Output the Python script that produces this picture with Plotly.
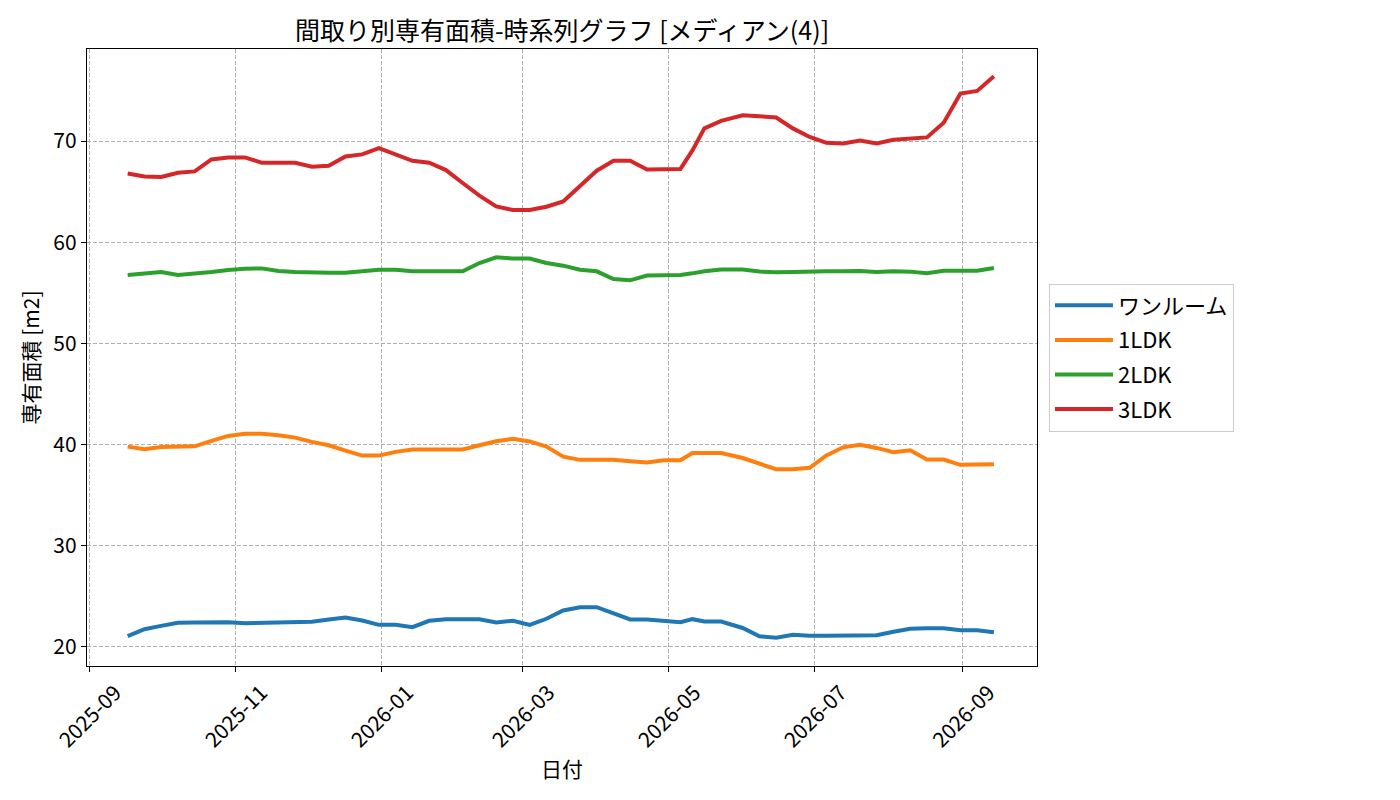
"""
Floor-plan area time series (median) rendered with Plotly.
"""
import plotly.graph_objects as go


# --- Data ---
dates = [
    "2025-09-17", "2025-09-24", "2025-10-01", "2025-10-08", "2025-10-15",
    "2025-10-22", "2025-10-29", "2025-11-05", "2025-11-12", "2025-11-19",
    "2025-11-26", "2025-12-03", "2025-12-10", "2025-12-17", "2025-12-24",
    "2025-12-31", "2026-01-07", "2026-01-14", "2026-01-21", "2026-01-28",
    "2026-02-04", "2026-02-11", "2026-02-18", "2026-02-25", "2026-03-04",
    "2026-03-11", "2026-03-18", "2026-03-25", "2026-04-01", "2026-04-08",
    "2026-04-15", "2026-04-22", "2026-04-29", "2026-05-06", "2026-05-11",
    "2026-05-16", "2026-05-23", "2026-06-01", "2026-06-08", "2026-06-15",
    "2026-06-22", "2026-06-29", "2026-07-06", "2026-07-13", "2026-07-20",
    "2026-07-27", "2026-08-03", "2026-08-10", "2026-08-17", "2026-08-24",
    "2026-08-31", "2026-09-07", "2026-09-14",
]

one_room = [
    21.05, 21.74, 22.07, 22.37, 22.40, 22.43, 22.43, 22.33, 22.37, 22.33,
    22.43, 22.47, 22.70, 22.90, 22.60, 22.17, 22.17, 21.94, 22.57, 22.73,
    22.73, 22.73, 22.40, 22.57, 22.17, 22.77, 23.59, 23.91, 23.91, 23.32,
    22.70, 22.70, 22.55, 22.43, 22.73, 22.50, 22.50, 21.86, 21.04, 20.89,
    21.19, 21.09, 21.09, 21.09, 21.09, 21.15, 21.48, 21.78, 21.84, 21.84,
    21.64, 21.64, 21.44,
]

ldk1 = [
    39.79, 39.53, 39.76, 39.76, 39.82, 40.36, 40.85, 41.05, 41.05, 40.91,
    40.68, 40.26, 39.92, 39.40, 38.90, 38.90, 39.27, 39.50, 39.50, 39.50,
    39.50, 39.92, 40.32, 40.56, 40.30, 39.79, 38.80, 38.48, 38.48, 38.48,
    38.34, 38.21, 38.44, 38.44, 39.15, 39.15, 39.15, 38.66, 38.08, 37.55,
    37.55, 37.70, 38.92, 39.72, 39.96, 39.66, 39.23, 39.42, 38.51, 38.51,
    37.99, 37.99, 38.05,
]

ldk2 = [
    56.76, 56.89, 57.05, 56.76, 56.86, 57.05, 57.25, 57.38, 57.41, 57.15,
    57.05, 56.99, 56.99, 56.99, 57.15, 57.28, 57.28, 57.12, 57.12, 57.12,
    57.12, 57.94, 58.50, 58.38, 58.38, 57.94, 57.68, 57.28, 57.12, 56.36,
    56.23, 56.70, 56.70, 56.75, 56.92, 57.12, 57.30, 57.30, 57.10, 57.02,
    57.05, 57.12, 57.12, 57.12, 57.15, 57.05, 57.12, 57.09, 56.92, 57.18,
    57.18, 57.18, 57.45,
]

ldk3 = [
    66.80, 66.50, 66.44, 66.87, 67.00, 68.18, 68.38, 68.38, 67.86, 67.86,
    67.86, 67.46, 67.56, 68.48, 68.68, 69.31, 68.72, 68.05, 67.86, 67.13,
    65.85, 64.60, 63.54, 63.18, 63.18, 63.51, 64.03, 65.55, 67.07, 68.05,
    68.05, 67.18, 67.24, 67.24, 69.07, 71.25, 72.00, 72.55, 72.45, 72.33,
    71.25, 70.40, 69.82, 69.76, 70.06, 69.76, 70.13, 70.20, 70.36, 71.82,
    74.70, 74.95, 76.40,
]

series_names = ["ワンルーム", "1LDK", "2LDK", "3LDK"]
series_values = [one_room, ldk1, ldk2, ldk3]
series_colors = ["#1f77b4", "#ff7f0e", "#2ca02c", "#d62728"]

FONT = "Noto Sans CJK JP"

# page body adds an 8px margin around the figure, so compensate here
OFFSET = 8
PLOT_L, PLOT_R, PLOT_T, PLOT_B = 87, 1037, 49, 666


def create_chart():
    fig = go.Figure()

    # ========== LINES ==========
    for name, vals, color in zip(series_names, series_values, series_colors):
        fig.add_trace(go.Scatter(
            x=dates, y=vals, name=name, mode="lines", legendgroup=name,
            line=dict(color=color, width=4),
        ))

    # ========== AXES ==========
    axis_common = dict(
        showline=True, linecolor="black", linewidth=1.3, mirror=True,
        ticks="outside", ticklen=5, tickwidth=1.2, tickcolor="black",
        showgrid=True, gridcolor="#b0b0b0", gridwidth=1, griddash="4px,2px",
        zeroline=False,
    )
    fig.update_xaxes(
        type="date", range=["2025-08-31", "2026-10-02"],
        tick0="2025-09-01", dtick="M2", tickformat="%Y-%m",
        tickangle=-45, ticklabelshift=26,
        tickfont=dict(size=21, color="black", family=FONT),
        title=dict(text="日付", font=dict(size=21, family=FONT), standoff=0),
        **axis_common,
    )
    fig.update_yaxes(
        range=[18.1, 79.1], tick0=20, dtick=10,
        tickfont=dict(size=21, color="black", family=FONT),
        title=dict(text="専有面積 [m2]", font=dict(size=21, family=FONT), standoff=7),
        **axis_common,
    )

    # ========== LAYOUT ==========
    l = PLOT_L - OFFSET
    t = PLOT_T - OFFSET
    fig.update_layout(
        width=1400, height=800,
        margin=dict(l=l, r=1400 - l - (PLOT_R - PLOT_L),
                    t=t, b=800 - t - (PLOT_B - PLOT_T)),
        paper_bgcolor="white", plot_bgcolor="white",
        font=dict(family=FONT, color="black"),
        title=dict(
            text="間取り別専有面積-時系列グラフ [メディアン(4)]",
            font=dict(size=25, family=FONT, color="black"),
            x=((PLOT_L + PLOT_R) / 2 - OFFSET) / 1400, xanchor="center",
            y=1 - (31 - OFFSET) / 800, yanchor="middle",
        ),
        legend=dict(
            x=1.0126, xanchor="left", y=0.5, yanchor="middle",
            font=dict(size=22, family=FONT),
            bordercolor="#cccccc", borderwidth=1, bgcolor="white",
            itemwidth=58, tracegroupgap=3,
        ),
        showlegend=True,
    )
    return fig


if __name__ == "__main__":
    fig = create_chart()
    fig.write_html("out.html")
